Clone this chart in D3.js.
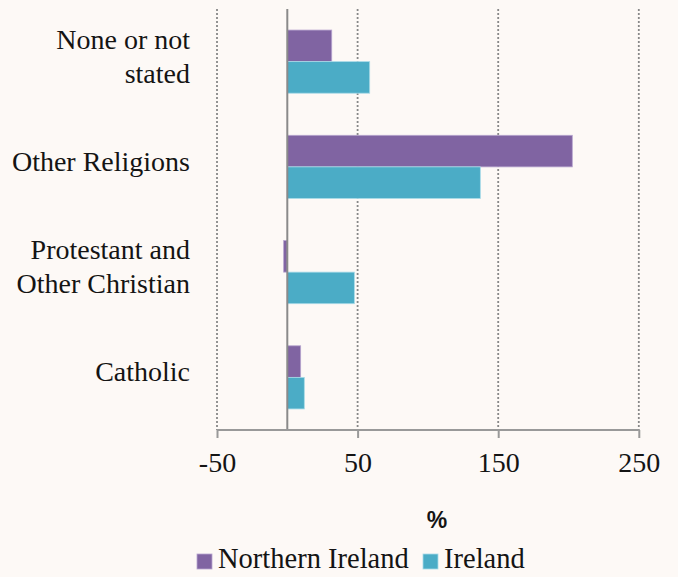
<!DOCTYPE html>
<html>
<head>
<meta charset="utf-8">
<script src="https://cdn.jsdelivr.net/npm/d3@7"></script>
<style>
  html, body { margin: 0; padding: 0; background: #fdf9f6; }
  svg { display: block; }
</style>
</head>
<body>
<svg id="chart" width="678" height="577"></svg>
<script>
// ---- data ----
const categories = ["None or not stated", "Other Religions", "Protestant and Other Christian", "Catholic"];
const categoryLines = [["None or not", "stated"], ["Other Religions"], ["Protestant and", "Other Christian"], ["Catholic"]];
const seriesNames = ["Northern Ireland", "Ireland"];
const northernIreland = [31.6, 202.7, -2.6, 9.5];
const ireland = [58.6, 137.3, 47.7, 12.1];
const tickValues = [-50, 50, 150, 250];
const tickLabels = ["-50", "50", "150", "250"];
const axisTitle = "%";

// ---- layout ----
const colors = ["#8064A2", "#4BACC6"];
const strokeColors = ["#b7a5cf", "#a9dbe8"];
const svg = d3.select("#chart");
const W = 678, H = 577;
svg.append("rect").attr("width", W).attr("height", H).attr("fill", "#fdf9f6");

const plot = { left: 217, right: 638.8, top: 9, bottom: 430 };
const x = d3.scaleLinear().domain([-50, 250]).range([plot.left, plot.right]);
const y = d3.scaleBand().domain(categories).range([plot.top, plot.bottom]).paddingInner(0.4).paddingOuter(0.2);
const ySub = d3.scaleBand().domain(seriesNames).range([0, y.bandwidth()]);

const font = "'Liberation Serif', 'Times New Roman', serif";
const textColor = "#141414";

// gridlines (dotted)
svg.append("g").selectAll("line").data(tickValues).join("line")
  .attr("x1", d => x(d)).attr("x2", d => x(d))
  .attr("y1", plot.top).attr("y2", plot.bottom)
  .attr("stroke", "#888").attr("stroke-width", 1.8)
  .attr("stroke-dasharray", "2,2");

// bars
const series = [northernIreland, ireland];
series.forEach((vals, si) => {
  svg.append("g").selectAll("rect").data(categories).join("rect")
    .attr("x", (c, i) => x(Math.min(0, vals[i])))
    .attr("width", (c, i) => Math.abs(x(vals[i]) - x(0)))
    .attr("y", c => y(c) + ySub(seriesNames[si]))
    .attr("height", ySub.bandwidth())
    .attr("fill", colors[si])
    .attr("stroke", strokeColors[si])
    .attr("stroke-width", 0.8);
});

// zero line
svg.append("line")
  .attr("x1", x(0)).attr("x2", x(0))
  .attr("y1", plot.top).attr("y2", plot.bottom)
  .attr("stroke", "#8a8a8a").attr("stroke-width", 2);

// x axis
const xAxis = d3.axisBottom(x).tickValues(tickValues).tickSize(8).tickPadding(14)
  .tickFormat((d, i) => tickLabels[i]);
const gx = svg.append("g").attr("transform", `translate(0,${plot.bottom})`).call(xAxis);
gx.select(".domain").attr("stroke", "#999").attr("stroke-width", 2).attr("d", `M${plot.left},0H${plot.right}`);
gx.selectAll(".tick line").attr("stroke", "#999").attr("stroke-width", 2);
gx.selectAll(".tick text")
  .attr("font-family", font).attr("font-size", 28).attr("fill", textColor);

// axis title
svg.append("text")
  .attr("x", 437).attr("y", 528)
  .attr("text-anchor", "middle")
  .attr("font-family", "'Liberation Sans', Arial, sans-serif")
  .attr("font-weight", "bold").attr("font-size", 23)
  .attr("fill", textColor)
  .text(axisTitle);

// category labels
const labelG = svg.append("g");
categories.forEach((c, i) => {
  const lines = categoryLines[i];
  const cy = y(c) + y.bandwidth() / 2;
  const t = labelG.append("text")
    .attr("text-anchor", "end")
    .attr("font-family", font).attr("font-size", 28)
    .attr("fill", textColor);
  lines.forEach((ln, li) => {
    t.append("tspan")
      .attr("x", 190)
      .attr("y", cy + 4 + (li - (lines.length - 1) / 2) * 34)
      .text(ln);
  });
});

// legend
const legendItems = [{ name: seriesNames[0], color: colors[0], x: 197 }, { name: seriesNames[1], color: colors[1], x: 423 }];
const lg = svg.append("g");
legendItems.forEach((it, i) => {
  lg.append("rect").attr("x", it.x).attr("y", 554).attr("width", 15).attr("height", 15)
    .attr("fill", it.color).attr("stroke", strokeColors[i]).attr("stroke-width", 0.8);
  lg.append("text").attr("x", it.x + 21).attr("y", 568)
    .attr("font-family", font).attr("font-size", 28.5).attr("fill", textColor)
    .text(it.name);
});
</script>
</body>
</html>
